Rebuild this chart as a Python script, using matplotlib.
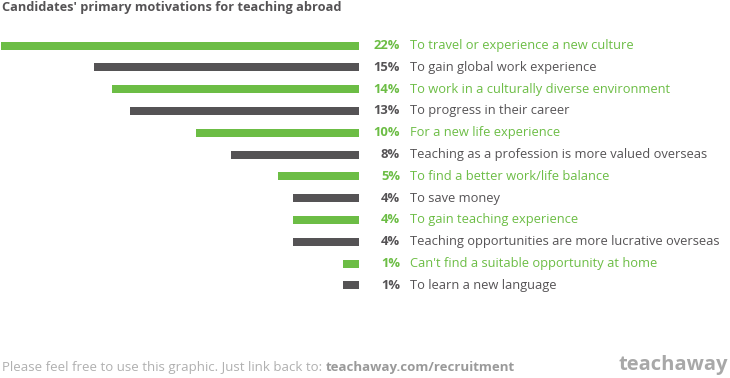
import matplotlib
matplotlib.use("Agg")
import matplotlib.pyplot as plt
from matplotlib.transforms import blended_transform_factory

# ---- data ----
categories = [
    "To travel or experience a new culture",
    "To gain global work experience",
    "To work in a culturally diverse environment",
    "To progress in their career",
    "For a new life experience",
    "Teaching as a profession is more valued overseas",
    "To find a better work/life balance",
    "To save money",
    "To gain teaching experience",
    "Teaching opportunities are more lucrative overseas",
    "Can't find a suitable opportunity at home",
    "To learn a new language",
]
bar_lengths = [22.0, 16.3, 15.2, 14.1, 10.0, 7.9, 5.0, 4.05, 4.05, 4.05, 1.0, 1.0]
pct_labels = ["22%", "15%", "14%", "13%", "10%", "8%", "5%", "4%", "4%", "4%", "1%", "1%"]
highlight = [True, False, True, False, True, False, True, False, True, False, True, False]

GREEN = "#6cbd45"
DARK = "#555355"
FOOT = "#b0b0b0"

W, H = 730, 378
fig = plt.figure(figsize=(W / 100, H / 100), dpi=100)
fig.patch.set_facecolor("white")

FONT = "Open Sans"

row_h = 21.8
top_px = 45.5 - row_h / 2
n = len(categories)
bottom_px = top_px + n * row_h
right_px = 359
ax = fig.add_axes([0, 1 - bottom_px / H, right_px / W, (bottom_px - top_px) / H])
px_per_unit = 16.26
ax.set_xlim(right_px / px_per_unit, 0)
ax.set_ylim(n - 0.5, -0.5)
ax.axis("off")

ys = list(range(n))
colors = [GREEN if h else DARK for h in highlight]
ax.barh(ys, bar_lengths, height=8 / row_h, color=colors)

tr = blended_transform_factory(fig.transFigure, ax.transData)
for y, c, p, col in zip(ys, categories, pct_labels, colors):
    ax.text(400 / W, y, p, transform=tr, ha="right", va="center",
            fontsize=9.4, fontweight="bold", color=col, family=FONT)
    ax.text(410 / W, y, c, transform=tr, ha="left", va="center",
            fontsize=9.25, color=col, family=FONT)

fig.text(2 / W, 1 - 7 / H, "Candidates' primary motivations for teaching abroad",
         ha="left", va="center", fontsize=9.2, fontweight="bold", color=DARK, family=FONT)

t1 = fig.text(2 / W, 1 - 368 / H, "Please feel free to use this graphic. Just link back to: ",
              ha="left", va="center", fontsize=9.5, color=FOOT, family=FONT)
fig.canvas.draw()
bb = t1.get_window_extent()
fig.text(bb.x1 / W, 1 - 368 / H, "teachaway.com/recruitment",
         ha="left", va="center", fontsize=9.5, fontweight="bold", color="#9a9a9a", family=FONT)

fig.text(728 / W, 1 - 365 / H, "teachaway", ha="right", va="center",
         fontsize=14.5, fontweight="bold", color="#a8a8a8", family=FONT)

fig.savefig("out.png", dpi=100, facecolor="white")
